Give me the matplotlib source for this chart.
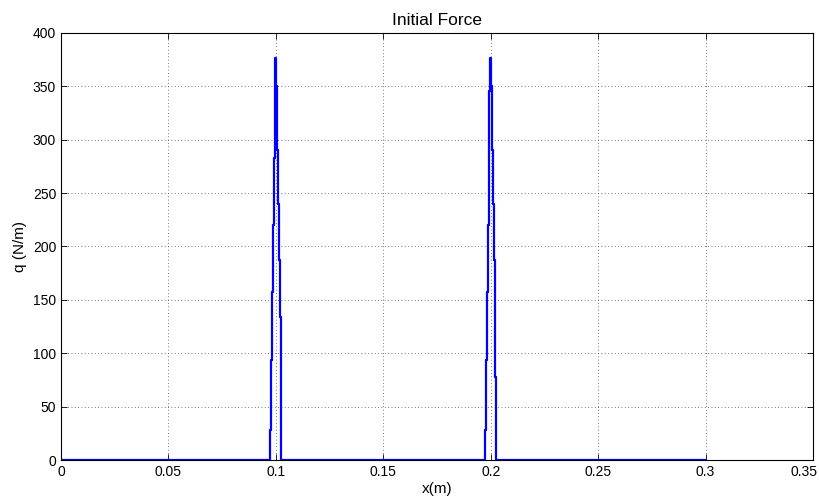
import numpy as np
import matplotlib
matplotlib.use('Agg')
import matplotlib.pyplot as plt
import matplotlib.transforms as mtransforms

# Force profile: flat zero from 0 to 0.3 with two
# narrow stepped spikes at x = 0.1 and x = 0.2.
peak_centres = [0.1, 0.2]

# Stair steps of one spike, relative to its centre (m) and heights (N/m).
rise_dx = [-0.0026, -0.0022, -0.0018, -0.0014, -0.0010, -0.0006, -0.0002]
rise_q = [28, 94, 157, 220, 283, 346, 377]
fall_dx = [0.0002, 0.0006, 0.0010, 0.0014, 0.0018, 0.0022, 0.0026]
fall_q = [350, 290, 240, 187, 134, 78, 24]

x_start, x_end = 0.0, 0.3


def _build_profile():
    xs = [x_start]
    qs = [0.0]
    for c in peak_centres:
        xs.append(c + rise_dx[0])
        qs.append(0.0)
        prev = 0.0
        for dx, q in zip(rise_dx, rise_q):
            xs += [c + dx, c + dx]
            qs += [prev, q]
            prev = q
        for dx, q in zip(fall_dx, fall_q):
            xs += [c + dx, c + dx]
            qs += [prev, q]
            prev = q
        xs.append(c + fall_dx[-1])
        qs.append(0.0)
    xs.append(x_end)
    qs.append(0.0)
    return np.array(xs), np.array(qs)


x, q = _build_profile()

plt.rcParams['font.family'] = ['Liberation Sans', 'DejaVu Sans']
plt.rcParams['font.size'] = 10

fig = plt.figure(figsize=(8.19, 4.97), dpi=100)
ax = fig.add_axes([61 / 819, 1 - 460 / 497, 752 / 819, 427 / 497])

ax.plot(x, q, color=(0, 0, 1), linewidth=1.6)

ax.set_xlim(0, 0.35)
ax.set_ylim(0, 400)
ax.set_xticks(np.arange(0, 0.351, 0.05))
ax.set_xticklabels(['0', '0.05', '0.1', '0.15', '0.2', '0.25', '0.3', '0.35'])
ax.set_yticks(np.arange(0, 401, 50))
ax.grid(True, color='0.3', linestyle=(0, (1, 3)), linewidth=0.6)
ax.tick_params(direction='in', top=True, right=True, length=4, width=0.6)
for s in ax.spines.values():
    s.set_linewidth(0.8)

# last x label sits at the figure edge: right align it and nudge it a bit
# so the whole "0.35" stays on the canvas
last = ax.xaxis.get_major_ticks()[-1].label1
last.set_horizontalalignment('right')
last.set_transform(last.get_transform() +
                   mtransforms.ScaledTranslation(5 / 100, 0, fig.dpi_scale_trans))

ax.set_title('Initial Force', fontsize=12.5, pad=6)
ax.set_xlabel('x(m)', fontsize=11, labelpad=2)
ax.set_ylabel('q (N/m)', fontsize=11, labelpad=4)

fig.savefig('out.png', dpi=100)
